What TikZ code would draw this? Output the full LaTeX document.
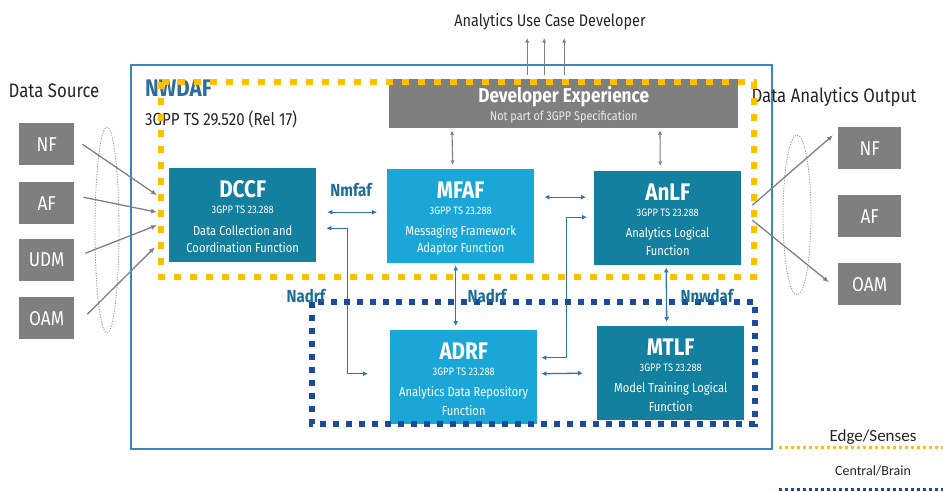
\documentclass[tikz,border=0pt]{standalone}
\usepackage{fontspec}
\setmainfont{Fira Sans}[FakeStretch=0.86]
\newfontfamily\legendfont{Carlito}
\usetikzlibrary{arrows.meta,calc}

\definecolor{darkfn}{HTML}{14809F}
\definecolor{lightfn}{HTML}{1AA7D8}
\definecolor{boxgray}{HTML}{7F7F7F}
\definecolor{arrowgray}{HTML}{808080}
\definecolor{linkblue}{HTML}{2D74B0}
\definecolor{labelblue}{HTML}{1B6E96}
\definecolor{framblue}{HTML}{3A88C2}
\definecolor{edgeyellow}{HTML}{FFC000}
\definecolor{brainblue}{HTML}{1C4B9B}

% function block: box plus title, spec reference and two description lines
\newcommand{\fnblock}[7]{%
  \node[fnbox, fill=#4] (#1) at (#2,#3) {};
  \node[fntitle] (#1-t) at ([shift={(0,21)}]#1.north) {#5};
  \node[fnspec]  (#1-s) at ([shift={(0,42)}]#1.north) {3GPP TS 23.288};
  \node[fndesc]  (#1-d1) at ([shift={(0,63)}]#1.north) {#6};
  \node[fndesc]  (#1-d2) at ([shift={(0,80)}]#1.north) {#7};
}

\begin{document}
\begin{tikzpicture}[x=1pt,y=-1pt,
  fnbox/.style={anchor=north west, minimum width=147pt, minimum height=94pt, inner sep=0pt},
  fntitle/.style={text=white, font=\bfseries\fontsize{24}{26}\selectfont, inner sep=0pt},
  fnspec/.style={text=white, font=\fontsize{10.8}{12}\selectfont, inner sep=0pt},
  fndesc/.style={text=white, font=\fontsize{13}{15}\selectfont, inner sep=0pt},
  gbox/.style={fill=boxgray, text=white, font=\fontsize{20}{22}\selectfont, anchor=north west,
    minimum width=55pt, minimum height=42pt, inner sep=0pt},
  ahead/.tip={Latex[length=5pt,width=5pt]},
  blink/.style={draw=linkblue, line width=1.3pt, ahead-ahead},
  glink/.style={draw=arrowgray, line width=1.3pt, -{Latex[length=6pt,width=5pt]}},
  gdlink/.style={draw=arrowgray, line width=1.1pt, {Latex[length=4.5pt,width=4pt]}-{Latex[length=4.5pt,width=4pt]}},
  iflabel/.style={text=labelblue, font=\bfseries\fontsize{17.5}{19}\selectfont, inner sep=0pt},
  plain/.style={text=black!85, inner sep=0pt}
]
\useasboundingbox (0,0) rectangle (943,491);

% NWDAF frame
\node[draw=framblue, line width=1.5pt, anchor=north west, minimum width=641pt, minimum height=384pt, inner sep=0pt] (nwdaf) at (130,64) {};
\node[text=framblue!80!black, font=\bfseries\fontsize{24}{26}\selectfont, anchor=west, inner sep=0pt] (nwdaf-t) at (145,88) {NWDAF};
\node[plain, font=\fontsize{17.5}{19}\selectfont, anchor=west] (nwdaf-s) at (145,119) {3GPP TS 29.520 (Rel 17)};

% developer experience
\node[fill=boxgray, anchor=north west, minimum width=349pt, minimum height=49pt, inner sep=0pt] (dev) at (389,79) {};
\node[text=white, font=\bfseries\fontsize{20}{22}\selectfont, inner sep=0pt] (dev-t) at ([shift={(0,18)}]dev.north) {Developer Experience};
\node[text=white!92!black, font=\fontsize{12.6}{14}\selectfont, inner sep=0pt] (dev-s) at ([shift={(0,38)}]dev.north) {Not part of 3GPP Specification};
\node[plain, font=\fontsize{16.8}{18}\selectfont] (ucd) at (550,22) {Analytics Use Case Developer};

% function blocks
\fnblock{dccf}{169}{168}{darkfn}{DCCF}{Data Collection and}{Coordination Function}
\fnblock{mfaf}{387}{169}{lightfn}{MFAF}{Messaging Framework}{Adaptor Function}
\fnblock{anlf}{594}{171}{darkfn}{AnLF}{Analytics Logical}{Function}
\fnblock{adrf}{390}{330}{lightfn}{ADRF}{Analytics Data Repository}{Function}
\fnblock{mtlf}{597}{326}{darkfn}{MTLF}{Model Training Logical}{Function}

% data sources
\node[plain, font=\fontsize{19.5}{21}\selectfont] (src) at (54,91) {Data Source};
\node[gbox] (snf) at (19,123) {NF};
\node[gbox] (saf) at (19,182) {AF};
\node[gbox] (sudm) at (19,239) {UDM};
\node[gbox] (soam) at (19,297) {OAM};

% data analytics consumers
\node[plain, font=\fontsize{19.5}{21}\selectfont] (out) at (834,97) {Data Analytics Output};
\node[gbox, minimum width=63pt] (onf) at (838,127) {NF};
\node[gbox, minimum width=63pt] (oaf) at (838,195) {AF};
\node[gbox, minimum width=63pt] (ooam) at (838,263) {OAM};

% grouping ellipses
\draw[arrowgray!80, line width=0.8pt, dash pattern=on 1.3pt off 1.3pt] (107,230) ellipse [x radius=12, y radius=103];
\draw[arrowgray!80, line width=0.8pt, dash pattern=on 1.3pt off 1.3pt] (797,215) ellipse [x radius=14, y radius=80];

% inputs to DCCF
\draw[glink] ([shift={(8,0)}]snf.east) -- ([shift={(-12,-20)}]dccf.west);
\draw[glink] ([shift={(9,-6)}]saf.east) -- ([shift={(-12,-3)}]dccf.west);
\draw[glink] ([shift={(11,-7)}]sudm.east) -- ([shift={(-12,10)}]dccf.west);
\draw[glink] ([shift={(13,-4)}]soam.east) -- ([shift={(-14,32)}]dccf.west);

% outputs from AnLF
\draw[glink] ([shift={(11,-13)}]anlf.east) -- ([shift={(-5,-13)}]onf.west);
\draw[glink] ([shift={(11,2)}]anlf.east) -- ([shift={(-9,-2)}]ooam.west);

% developer experience links
\draw[gdlink] ([shift={(63,2)}]dev.south west) -- ([shift={(-8,-4)}]mfaf.north);
\draw[gdlink] ([shift={(271,2)}]dev.south west) -- ([shift={(-7.5,-5)}]anlf.north);
\foreach \dx in {-36.5,-19.5,0.5}
  \draw[draw=arrowgray, line width=1.1pt, -{Latex[length=4.5pt,width=4pt]}] ([shift={(\dx,-4)}]dev.north) -- ++(0,-37);

% service interfaces
\draw[blink] ([shift={(11,-3)}]dccf.east) -- ([shift={(-10,-4)}]mfaf.west);
\draw[blink] ([shift={(10,-19)}]mfaf.east) -- ([shift={(-8,-21)}]anlf.west);
\draw[blink] ([shift={(10,13)}]dccf.east) -- ++(21,0) |- ([shift={(-22,-3.5)}]adrf.west);
\draw[blink] ([shift={(-5,2)}]mfaf.south) -- ([shift={(-8,-4)}]adrf.north);
\draw[blink] ([shift={(4,-19.5)}]adrf.east) -- ++(25,0) |- ([shift={(-7,-1)}]anlf.west);
\draw[blink] ([shift={(4,-3.5)}]adrf.east) -- ([shift={(-14,0)}]mtlf.west);
\draw[blink] ([shift={(-1.5,2)}]anlf.south) -- ([shift={(-4,-4)}]mtlf.north);

% groups
\draw[edgeyellow, line width=6pt, dash pattern=on 7pt off 9pt] (161,82) rectangle (754,277);
\draw[brainblue, line width=6pt, dash pattern=on 6pt off 7pt] (312,302) rectangle (755,424);

% interface labels
\node[iflabel] (l-nmfaf) at (351,190) {Nmfaf};
\node[iflabel] (l-nadrf1) at (306,296) {Nadrf};
\node[iflabel] (l-nadrf2) at (487,296) {Nadrf};
\node[iflabel] (l-nnwdaf) at (707,296) {Nnwdaf};

% legend
\node[plain, font=\legendfont\fontsize{17}{19}\selectfont] (lg-edge) at (873,437) {Edge/Senses};
\node[plain, font=\legendfont\fontsize{14}{16}\selectfont] (lg-brain) at (873,471) {Central/Brain};
\coordinate (lg-e1) at (779,447);
\coordinate (lg-e2) at (943,447);
\coordinate (lg-b1) at (779,489);
\coordinate (lg-b2) at (943,489);
\draw[edgeyellow, line width=3pt, dash pattern=on 3pt off 3pt] (lg-e1) -- (lg-e2);
\draw[brainblue, line width=3pt, dash pattern=on 3pt off 3pt] (lg-b1) -- (lg-b2);
\end{tikzpicture}
\end{document}
